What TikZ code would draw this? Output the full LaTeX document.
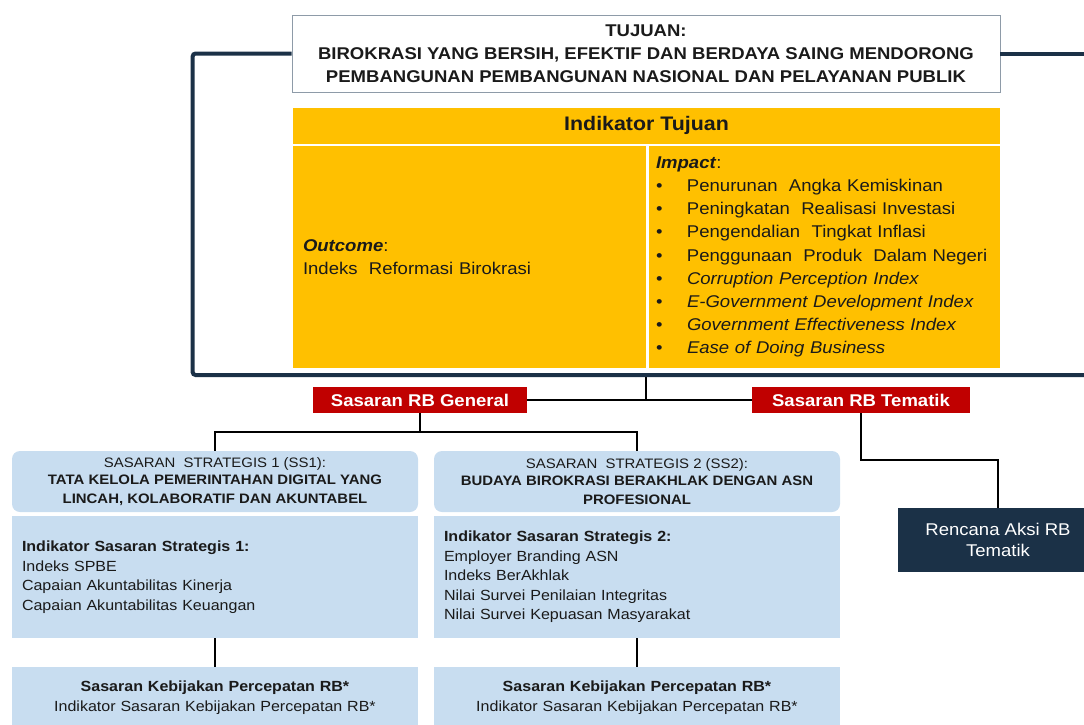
\documentclass[tikz,border=0pt]{standalone}
\usepackage{fontspec}
\setmainfont{Liberation Sans}[FakeStretch=1.09]
\definecolor{navy}{HTML}{1B3147}
\definecolor{goldc}{HTML}{FFC000}
\definecolor{redc}{HTML}{C00000}
\definecolor{lblue}{HTML}{C8DDF0}
\definecolor{greyb}{HTML}{8E9BA8}
\definecolor{txt}{HTML}{1A1A1A}
\tikzset{
  frame/.style={draw=navy, line width=4pt, rounded corners=3pt},
  conn/.style={draw=black, line width=2pt},
  tujuanbox/.style={draw=greyb, line width=0.8pt, fill=white, minimum width=708, minimum height=77, align=center, text=txt, font=\fontsize{17}{23}\selectfont\bfseries},
  goldbox/.style={fill=goldc, draw=none, text=txt},
  redbox/.style={fill=redc, draw=none, text=white, minimum height=26, font=\fontsize{17}{18}\selectfont\bfseries},
  bluehead/.style={fill=lblue, draw=none, rounded corners=8pt, minimum width=406, minimum height=61, align=center, text=txt, font=\fontsize{13.7}{19}\selectfont\bfseries},
  bluebody/.style={fill=lblue, draw=none, minimum width=406, inner xsep=10, text width=386, align=left, text=txt, font=\fontsize{14.7}{19.5}\selectfont},
  navybox/.style={fill=navy, draw=none, text=white, minimum width=200, minimum height=64, align=center, font=\fontsize{17}{21}\selectfont},
}
\begin{document}
\begin{tikzpicture}[x=1pt,y=-1pt]
\useasboundingbox (0,0) rectangle (1084,724);
% top title
\node[tujuanbox] (tujuan) at (646,53.5) {TUJUAN:\\BIROKRASI YANG BERSIH, EFEKTIF DAN BERDAYA SAING MENDORONG\\PEMBANGUNAN PEMBANGUNAN NASIONAL DAN PELAYANAN PUBLIK};
% indikator tujuan
\node[goldbox, minimum width=707, minimum height=36, font=\fontsize{19.6}{20}\selectfont\bfseries] (indhead) at (646.5,125.5) {Indikator Tujuan};
\node[goldbox, minimum width=353, minimum height=222, inner xsep=10, text width=333, align=left, font=\fontsize{17}{23}\selectfont] (outcome) at (469.5,257) {\textbf{\textit{Outcome}}:\\Indeks\ \ Reformasi Birokrasi};
\node[goldbox, minimum width=351, minimum height=222, inner xsep=7, text width=337, align=left, font=\fontsize{17}{23.2}\selectfont] (impact) at (824.5,257) {\textbf{\textit{Impact}}:\\
\makebox[31pt][l]{\textbullet}Penurunan\ \ Angka Kemiskinan\\
\makebox[31pt][l]{\textbullet}Peningkatan\ \ Realisasi Investasi\\
\makebox[31pt][l]{\textbullet}Pengendalian\ \ Tingkat Inflasi\\
\makebox[31pt][l]{\textbullet}Penggunaan\ \ Produk\ \ Dalam Negeri\\
\makebox[31pt][l]{\textbullet}\textit{Corruption Perception Index}\\
\makebox[31pt][l]{\textbullet}\textit{E-Government Development Index}\\
\makebox[31pt][l]{\textbullet}\textit{Government Effectiveness Index}\\
\makebox[31pt][l]{\textbullet}\textit{Ease of Doing Business}};
% frame
\coordinate (fbr) at (1084,375);
\coordinate (fb) at (646,375);
\coordinate (j) at (646,401);
% sasaran RB
\node[redbox, minimum width=214] (gen) at (420,400) {Sasaran RB General};
\node[redbox, minimum width=218] (tem) at (861,400) {Sasaran RB Tematik};
\draw[conn] (fb) -- (j);
\draw[conn] (gen.east) -- (tem.west);
\draw[frame] (tujuan.west) -- ++(-99,0) |- (fbr);
\draw[frame] (tujuan.east) -- (tujuan.east -| fbr);
% strategic targets
\node[bluehead] (ss1h) at (215,481.5) {{\mdseries SASARAN\ \ STRATEGIS 1 (SS1):}\\[-2pt]TATA KELOLA PEMERINTAHAN DIGITAL YANG\\LINCAH, KOLABORATIF DAN AKUNTABEL};
\node[bluehead] (ss2h) at (637,481.5) {{\mdseries SASARAN\ \ STRATEGIS 2 (SS2):}\\[-2pt]BUDAYA BIROKRASI BERAKHLAK DENGAN ASN\\PROFESIONAL};
\draw[conn] (gen.south) -- (gen.south |- 0,432);
\draw[conn] (ss1h.north) -- ++(0,-19) -| (ss2h.north);
\node[bluebody, minimum height=122] (ss1b) at (215,577) {\textbf{Indikator Sasaran Strategis 1:}\\Indeks SPBE\\Capaian Akuntabilitas Kinerja\\Capaian Akuntabilitas Keuangan};
\node[bluebody, minimum height=122] (ss2b) at (637,577) {\textbf{Indikator Sasaran Strategis 2:}\\Employer Branding ASN\\Indeks BerAkhlak\\Nilai Survei Penilaian Integritas\\Nilai Survei Kepuasan Masyarakat};
\node[bluebody, minimum height=61, align=center] (kb1) at (215,697.5) {\textbf{Sasaran Kebijakan Percepatan RB*}\\Indikator Sasaran Kebijakan Percepatan RB*};
\node[bluebody, minimum height=61, align=center] (kb2) at (637,697.5) {\textbf{Sasaran Kebijakan Percepatan RB*}\\Indikator Sasaran Kebijakan Percepatan RB*};
\draw[conn] (ss1b.south) -- (kb1.north);
\draw[conn] (ss2b.south) -- (kb2.north);
% tematik
\node[navybox] (ren) at (998,540) {Rencana Aksi RB\\Tematik};
\draw[conn] (tem.south) -- ++(0,47) -| (ren.north);
\end{tikzpicture}
\end{document}
